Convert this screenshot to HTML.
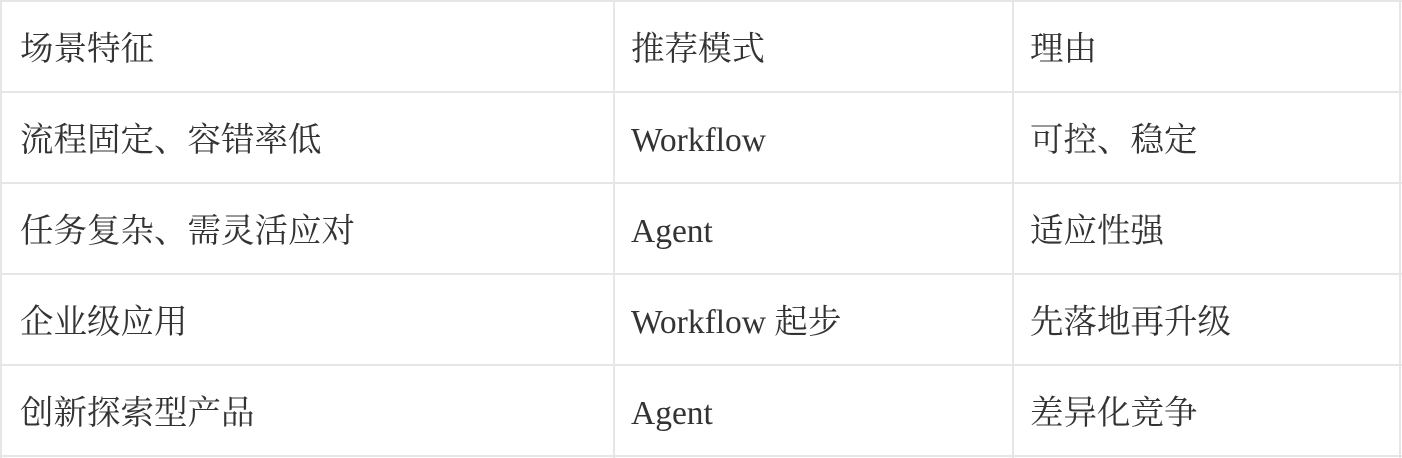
<!DOCTYPE html>
<html><head><meta charset="utf-8"><style>
html,body{margin:0;padding:0;background:#fff;width:1402px;height:458px;overflow:hidden;position:relative;}
.h{position:absolute;left:0;width:1402px;height:2px;background:#e6e6e6;}
.v{position:absolute;top:0;width:2px;height:458px;background:#e6e6e6;}
.t{position:absolute;font-family:"Liberation Serif","Noto Serif CJK SC",serif;font-size:33.5px;color:#333;line-height:40px;height:40px;white-space:nowrap;}
</style></head><body>
<div class="h" style="top:0"></div>
<div class="h" style="top:91px"></div>
<div class="h" style="top:182px"></div>
<div class="h" style="top:273px"></div>
<div class="h" style="top:364px"></div>
<div class="h" style="top:455px"></div>
<div class="v" style="left:0"></div>
<div class="v" style="left:613px"></div>
<div class="v" style="left:1012px"></div>
<div class="v" style="left:1399px"></div>

<div class="t" style="left:20px;top:30px">场景特征</div>
<div class="t" style="left:631px;top:30px">推荐模式</div>
<div class="t" style="left:1030px;top:30px">理由</div>

<div class="t" style="left:20px;top:121px">流程固定、容错率低</div>
<div class="t" style="left:631px;top:121px">Workflow</div>
<div class="t" style="left:1030px;top:121px">可控、稳定</div>

<div class="t" style="left:20px;top:212px">任务复杂、需灵活应对</div>
<div class="t" style="left:631px;top:212px">Agent</div>
<div class="t" style="left:1030px;top:212px">适应性强</div>

<div class="t" style="left:20px;top:303px">企业级应用</div>
<div class="t" style="left:631px;top:303px">Workflow 起步</div>
<div class="t" style="left:1030px;top:303px">先落地再升级</div>

<div class="t" style="left:20px;top:394px">创新探索型产品</div>
<div class="t" style="left:631px;top:394px">Agent</div>
<div class="t" style="left:1030px;top:394px">差异化竞争</div>
</body></html>
